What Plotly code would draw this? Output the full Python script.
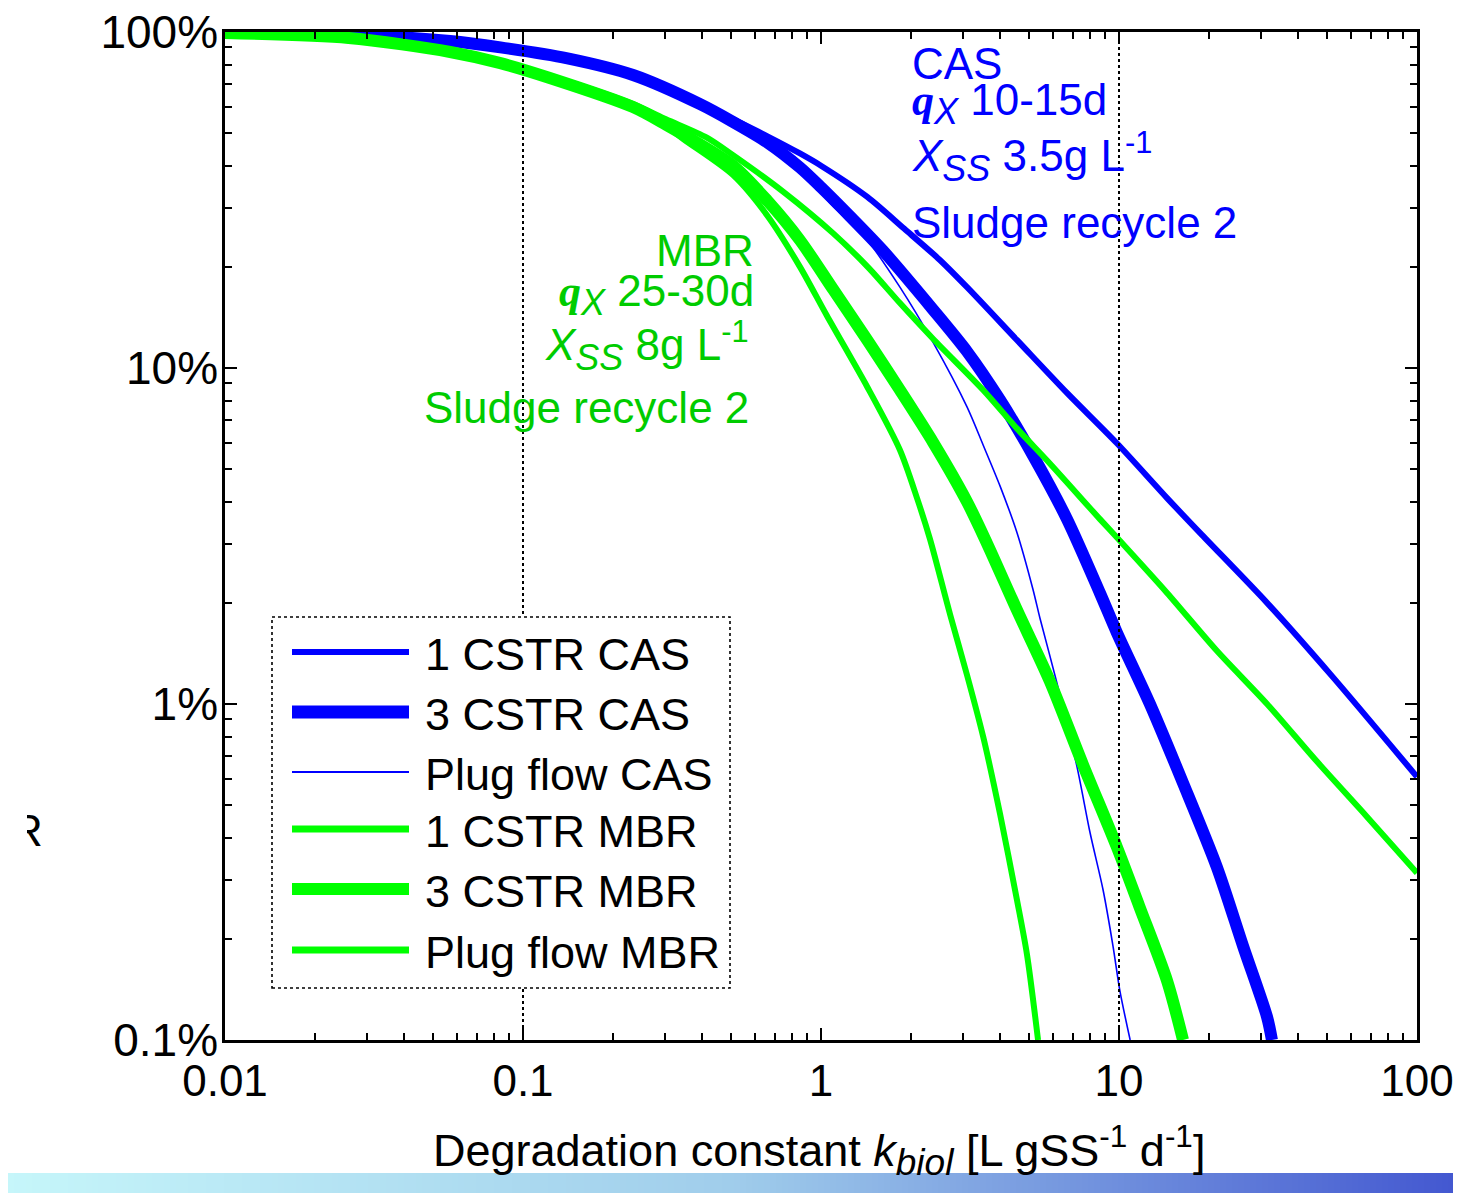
import plotly.graph_objects as go

# ---------------- data (k_biol [L gSS^-1 d^-1], remaining fraction [%]) ----------------
cas1_k = [0.01, 0.026, 0.057, 0.084, 0.141, 0.234, 0.393, 0.507, 0.659, 0.85, 1.0, 1.43, 1.9, 2.5, 3.09, 4.55, 6.69, 9.84, 14.5, 18.7, 31.4, 52.3, 100]
cas1_r = [99.6, 98.3, 94.2, 90.3, 84.0, 75.0, 61.5, 55.0, 49.0, 43.5, 40.0, 32.3, 26.0, 21.0, 17.4, 12.1, 8.43, 5.97, 4.1, 3.23, 2.0, 1.20, 0.607]

cas3_k = [0.01, 0.026, 0.057, 0.084, 0.141, 0.234, 0.393, 0.507, 0.659, 0.85, 1.0, 1.25, 1.61, 2.38, 3.09, 3.99, 5.14, 6.69, 8.63, 9.84, 12.7, 16.4, 21.3, 26.1, 31.4, 32.6]
cas3_r = [99.6, 98.2, 94.0, 90.0, 83.5, 74.5, 61.0, 54.0, 47.0, 39.5, 34.5, 28.3, 22.4, 14.9, 11.2, 8.03, 5.5, 3.55, 2.14, 1.63, 1.0, 0.582, 0.327, 0.19, 0.117, 0.1]

pfcas_k = [0.01, 0.026, 0.057, 0.084, 0.141, 0.234, 0.393, 0.507, 0.659, 0.85, 1.07, 1.43, 1.84, 2.38, 3.09, 3.50, 3.99, 4.55, 5.14, 5.43, 6.19, 7.23, 8.0, 8.84, 9.55, 10.07, 10.9]
pfcas_r = [99.6, 98.2, 94.0, 90.0, 83.5, 74.5, 61.0, 54.0, 46.8, 39.2, 31.0, 24.0, 17.4, 11.9, 7.66, 5.9, 4.45, 3.23, 2.2, 1.8, 1.155, 0.650, 0.413, 0.28, 0.19, 0.14, 0.1]

mbr1_k = [0.01, 0.026, 0.057, 0.084, 0.123, 0.234, 0.302, 0.414, 0.507, 0.746, 1.097, 1.45, 1.84, 2.38, 3.50, 4.55, 5.86, 8.63, 10.07, 14.5, 21.3, 31.4, 46.1, 67.9, 100]
mbr1_r = [99.3, 96.5, 88.0, 81.5, 74.0, 61.0, 55.0, 48.5, 43.0, 33.5, 25.2, 19.8, 15.6, 12.2, 8.6, 6.6, 5.2, 3.55, 3.06, 2.14, 1.44, 1.0, 0.675, 0.462, 0.314]

mbr3_k = [0.01, 0.026, 0.057, 0.084, 0.123, 0.234, 0.302, 0.345, 0.507, 0.66, 0.85, 1.10, 1.43, 1.84, 2.38, 3.09, 3.61, 4.55, 5.86, 7.57, 9.84, 11.7, 14.5, 16.4]
mbr3_r = [99.3, 96.0, 87.2, 80.8, 73.0, 59.8, 53.0, 49.5, 40.0, 31.5, 24.0, 17.1, 12.1, 8.6, 6.0, 4.0, 3.0, 1.90, 1.17, 0.66, 0.375, 0.25, 0.15, 0.1]

pfmbr_k = [0.01, 0.026, 0.057, 0.084, 0.123, 0.234, 0.302, 0.345, 0.507, 0.659, 0.85, 1.047, 1.43, 1.84, 2.10, 2.32, 2.71, 3.09, 3.50, 3.99, 4.55, 4.91, 5.35]
pfmbr_r = [99.3, 96.0, 87.0, 80.5, 72.5, 59.3, 52.5, 48.0, 37.5, 28.5, 20.0, 14.3, 8.78, 5.7, 4.1, 3.1, 1.85, 1.22, 0.80, 0.47, 0.26, 0.18, 0.1]

series_names = ["1 CSTR CAS", "3 CSTR CAS", "Plug flow CAS", "1 CSTR MBR", "3 CSTR MBR", "Plug flow MBR"]

x_tickvals = [0.01, 0.1, 1, 10, 100]
x_ticktext = ["0.01", "0.1", "1", "10", "100"]
y_tickvals = [0.1, 1, 10, 100]
y_ticktext = ["0.1%", "1%", "10%", "100%"]

# ---------------- styling ----------------
PAGE_OFF = 8                      # default body margin of the html page
W, H = 1461 - PAGE_OFF, 1193 - PAGE_OFF
FONT = "Arial, Liberation Sans, sans-serif"
BLUE = "#0000FF"
GREEN = "#00FF00"
GTEXT = "rgb(0,204,0)"


def px(x):
    """page pixel x -> paper coordinate"""
    return (x - PAGE_OFF) / W


def py(y):
    """page pixel y -> paper coordinate"""
    return 1 - (y - PAGE_OFF) / H


styles = [
    (cas1_k, cas1_r, BLUE, 6),
    (cas3_k, cas3_r, BLUE, 12),
    (pfcas_k, pfcas_r, BLUE, 1.6),
    (mbr1_k, mbr1_r, GREEN, 6),
    (mbr3_k, mbr3_r, GREEN, 12),
    (pfmbr_k, pfmbr_r, GREEN, 6),
]

fig = go.Figure()
for name, (k, r, col, w) in zip(series_names, styles):
    fig.add_trace(go.Scatter(x=k, y=r, mode="lines", name=name, showlegend=False,
                             line=dict(color=col, width=w, shape="spline", smoothing=0.8)))

# clipped remnant of the y-axis title (only the edge of its last letter is visible)
fig.add_trace(go.Scatter(x=[0], y=[0.5], mode="text", text=["R"], showlegend=False,
                         textfont=dict(size=44, color="black", family=FONT),
                         textposition="middle center", cliponaxis=True,
                         xaxis="x2", yaxis="y2"))

x_minor = [m * 10 ** e for e in range(-2, 2) for m in range(2, 10)]
y_minor = [m * 10 ** e for e in range(-1, 2) for m in range(2, 10)]

axis_common = dict(type="log", showgrid=False, zeroline=False, showline=True, linecolor="black",
                   linewidth=2.5, mirror="ticks", ticks="inside", ticklen=12, tickwidth=2,
                   tickcolor="black", automargin=False, ticklabeloverflow="allow")

fig.update_layout(
    width=W, height=H,
    margin=dict(l=0, r=0, t=0, b=0),
    paper_bgcolor="white", plot_bgcolor="white",
    showlegend=False,
    xaxis=dict(domain=[px(225), px(1417)], range=[-2, 2], tickvals=x_tickvals, ticktext=x_ticktext,
               tickfont=dict(size=44, color="black", family=FONT),
               minor=dict(tickvals=x_minor, ticks="inside", ticklen=7, tickwidth=1.5, tickcolor="black", showgrid=False),
               **axis_common),
    yaxis=dict(domain=[py(1040), py(32)], range=[-1, 2], tickvals=y_tickvals, ticktext=y_ticktext,
               tickfont=dict(size=46, color="black", family=FONT), ticklabelstandoff=-5,
               minor=dict(tickvals=y_minor, ticks="inside", ticklen=7, tickwidth=1.5, tickcolor="black", showgrid=False),
               **axis_common),
    xaxis2=dict(domain=[px(27), px(70)], range=[0, 1], visible=False, anchor="y2"),
    yaxis2=dict(domain=[py(870), py(800)], range=[0, 1], visible=False, anchor="x2"),
)

shapes = []
# vertical dotted reference lines
for xv in (0.1, 10):
    shapes.append(dict(type="line", xref="x", yref="y domain", x0=xv, x1=xv, y0=0, y1=1,
                       line=dict(color="black", width=2, dash="dot"), layer="above"))

# legend box
shapes.append(dict(type="rect", xref="paper", yref="paper", x0=px(272), x1=px(730), y0=py(988), y1=py(617),
                   line=dict(color="black", width=1.6, dash="dot"), fillcolor="white", layer="above"))
leg_rows = [652, 712, 772, 829, 889, 950]
leg_widths = [6, 13, 2, 7, 12, 7]
for (k, r, col, w), yy, lw in zip(styles, leg_rows, leg_widths):
    shapes.append(dict(type="line", xref="paper", yref="paper", x0=px(292), x1=px(409), y0=py(yy), y1=py(yy),
                       line=dict(color=col, width=lw), layer="above"))

# gradient strip along the bottom of the page
stops = [(0.0, (198, 246, 250)), (0.5, (160, 205, 235)), (1.0, (66, 86, 208))]


def grad(t):
    for (t0, c0), (t1, c1) in zip(stops[:-1], stops[1:]):
        if t <= t1:
            f = (t - t0) / (t1 - t0)
            return "rgb(%d,%d,%d)" % tuple(round(a + (b - a) * f) for a, b in zip(c0, c1))
    return "rgb(%d,%d,%d)" % stops[-1][1]


step = 6
for x0 in range(PAGE_OFF, 1461, step):
    shapes.append(dict(type="rect", xref="paper", yref="paper", x0=px(x0), x1=min(1.0, px(x0 + step + 1)),
                       y0=0, y1=py(1173), line=dict(width=0), fillcolor=grad(x0 / 1461), layer="below"))

fig.update_layout(shapes=shapes)

ann = []
for name, yy in zip(series_names, leg_rows):
    ann.append(dict(text=name, xref="paper", yref="paper", x=px(423), y=py(yy + 2), xanchor="left",
                    yanchor="middle", showarrow=False, font=dict(size=45, color="black", family=FONT)))

SUBX = "<sub><span style='font-size:36px'><i>X</i></span></sub>"
QX = "<b><i><span style='font-family:Liberation Serif, Times New Roman, serif'>q</span></i></b>" + SUBX
XSS = "<i>X</i><sub><span style='font-size:36px'><i>SS</i></span></sub>"

cas_lines = [("CAS", 64), (QX + " 10-15d", 104), (XSS + " 3.5g L<sup>-1</sup>", 157), ("Sludge recycle 2", 222)]
for t, yy in cas_lines:
    ann.append(dict(text=t, xref="paper", yref="paper", x=px(910), y=py(yy), xanchor="left", yanchor="middle",
                    showarrow=False, font=dict(size=44, color=BLUE, family=FONT)))

mbr_lines = [("MBR", 250, 756), (QX + " 25-30d", 294, 756), (XSS + " 8g L<sup>-1</sup>", 346, 751), ("Sludge recycle 2", 407, 751)]
for t, yy, xr in mbr_lines:
    ann.append(dict(text=t, xref="paper", yref="paper", x=px(xr), y=py(yy), xanchor="right", yanchor="middle",
                    showarrow=False, font=dict(size=44, color=GTEXT, family=FONT)))

ann.append(dict(text="Degradation constant <i>k</i><sub><span style='font-size:37px'><i>biol</i></span></sub> [L gSS<sup>-1</sup> d<sup>-1</sup>]",
                xref="paper", yref="paper", x=px(819), y=py(1150), xanchor="center", yanchor="middle",
                showarrow=False, font=dict(size=45, color="black", family=FONT)))

fig.update_layout(annotations=ann)

fig.write_html("out.html")
